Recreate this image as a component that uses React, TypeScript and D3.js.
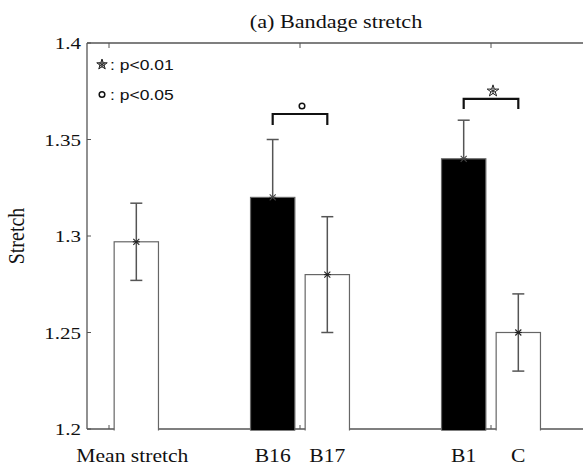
import React from "react";
import * as d3 from "d3";

const categories = ["Mean stretch", "B16", "B17", "B1", "C"];
const groupOf = [1, 2, 2, 3, 3];
const sideOf = [1, -1, 1, -1, 1];
const fills = ["white", "black", "white", "black", "white"];
const means = [1.297, 1.32, 1.28, 1.34, 1.25];
const errors = [0.02, 0.03, 0.03, 0.02, 0.02];
const yTicks = [1.2, 1.25, 1.3, 1.35, 1.4];
const yTickLabels = ["1.2", "1.25", "1.3", "1.35", "1.4"];
const groupTicks = [1, 2, 3];
const brackets = [
  { from: 1, to: 2, top: 1.3632, foot: 1.3575, symbol: "circle" },
  { from: 3, to: 4, top: 1.371, foot: 1.3658, symbol: "star" },
];
const legendLabels = [": p<0.01", ": p<0.05"];
const legendSymbols = ["star", "circle"];

const W = 583;
const H = 467;
const LEFT = 87;
const TOP = 43;
const BOTTOM = 429;
const RIGHT = 650;
const BAR_OFFSET = 0.143;
const BAR_WIDTH = 0.232;

const serif = "'Liberation Serif', 'Times New Roman', serif";
const sans = "'Liberation Sans', Arial, sans-serif";

export default function App() {
  const x = d3.scaleLinear().domain([1, 3]).range([109, 491]);
  const y = d3.scaleLinear().domain([1.2, 1.4]).range([BOTTOM, TOP]);
  const bw = x(1 + BAR_WIDTH) - x(1);
  const cx = (i: number) => x(groupOf[i] + sideOf[i] * BAR_OFFSET);
  const starPath = d3.symbol().type(d3.symbolStar).size(42)()!;
  const starSmall = d3.symbol().type(d3.symbolStar).size(34)()!;
  const asterisk = d3.symbol().type(d3.symbolAsterisk).size(30)()!;

  const sym = (kind: string, px: number, py: number, key: string, small = false) =>
    kind === "circle" ? (
      <circle key={key} cx={px} cy={py} r={2.8} fill="none" stroke="#111" strokeWidth={1.5} />
    ) : (
      <g key={key} transform={`translate(${px},${py})`}>
        <path d={small ? starSmall : starPath} fill={small ? "#bbb" : "#fff"} stroke="#222" strokeWidth={1} />
        <path d={asterisk} fill="none" stroke="#222" strokeWidth={0.9} />
      </g>
    );

  return (
    <svg width={W} height={H} style={{ position: "absolute", left: 0, top: 0, background: "white" }}>
      <defs>
        <clipPath id="plotclip">
          <rect x={LEFT} y={TOP} width={RIGHT - LEFT} height={BOTTOM - TOP + 1.5} />
        </clipPath>
      </defs>
      <rect x={0} y={0} width={W} height={H} fill="white" />
      {/* axes box */}
      <g stroke="#555" strokeWidth={1.3} fill="none">
        <line x1={LEFT} x2={RIGHT} y1={TOP} y2={TOP} />
        <line x1={LEFT} x2={RIGHT} y1={BOTTOM} y2={BOTTOM} />
        <line x1={LEFT} x2={LEFT} y1={TOP} y2={BOTTOM} />
      </g>
      {/* y ticks */}
      <g stroke="#555" strokeWidth={1}>
        {yTicks.map((t, i) => (
          <line key={i} x1={LEFT} x2={LEFT + 4} y1={y(t)} y2={y(t)} />
        ))}
      </g>
      {/* x ticks */}
      <g stroke="#555" strokeWidth={1}>
        {groupTicks.map((g) => (
          <g key={g}>
            <line x1={x(g)} x2={x(g)} y1={TOP} y2={TOP + 5} />
            <line x1={x(g)} x2={x(g)} y1={BOTTOM} y2={BOTTOM - 4} />
          </g>
        ))}
      </g>
      {/* bars */}
      <g clipPath="url(#plotclip)">
        {means.map((m, i) => (
          <rect
            key={i}
            x={cx(i) - bw / 2}
            y={y(m)}
            width={bw}
            height={BOTTOM + 20 - y(m)}
            fill={fills[i]}
            stroke="#666"
            strokeWidth={1.2}
          />
        ))}
      </g>
      {/* error bars */}
      <g stroke="#555" strokeWidth={1.5}>
        {means.map((m, i) => {
          const dark = fills[i] === "black";
          const lowY = dark ? y(m) : y(m - errors[i]);
          return (
            <g key={i}>
              <line x1={cx(i)} x2={cx(i)} y1={lowY} y2={y(m + errors[i])} />
              <line x1={cx(i) - 6} x2={cx(i) + 6} y1={y(m + errors[i])} y2={y(m + errors[i])} />
              {!dark && (
                <line x1={cx(i) - 6} x2={cx(i) + 6} y1={y(m - errors[i])} y2={y(m - errors[i])} />
              )}
              <g stroke={dark ? "#444" : "#222"} strokeWidth={1.1}>
                <line x1={cx(i) - 3} x2={cx(i) + 3} y1={y(m) - 3} y2={y(m) + 3} />
                <line x1={cx(i) - 3} x2={cx(i) + 3} y1={y(m) + 3} y2={y(m) - 3} />
                <line x1={cx(i) - 3.5} x2={cx(i) + 3.5} y1={y(m)} y2={y(m)} />
              </g>
            </g>
          );
        })}
      </g>
      {/* significance brackets */}
      {brackets.map((b, i) => {
        const x1 = cx(b.from);
        const x2 = cx(b.to);
        return (
          <g key={i}>
            <path
              d={`M${x1},${y(b.foot)}V${y(b.top)}H${x2}V${y(b.foot)}`}
              fill="none"
              stroke="#111"
              strokeWidth={2.2}
            />
            {sym(b.symbol, (x1 + x2) / 2 + 2, y(b.top) - 8, "s" + i)}
          </g>
        );
      })}
      {/* legend */}
      {legendLabels.map((l, i) => (
        <g key={i}>
          {sym(legendSymbols[i], 102, 64.5 + i * 30, "l" + i, true)}
          <text
            transform={`translate(110,${70 + i * 30}) scale(1.25,1)`}
            fontFamily={sans}
            fontSize={14}
            fill="#111"
          >
            {l}
          </text>
        </g>
      ))}
      {/* y tick labels */}
      {yTicks.map((t, i) => (
        <text
          key={i}
          transform={`translate(81,${y(t) + 6}) scale(1.2,1)`}
          textAnchor="end"
          fontFamily={serif}
          fontSize={17.5}
          fill="#111"
        >
          {yTickLabels[i]}
        </text>
      ))}
      {/* x category labels */}
      {categories.map((c, i) => (
        <text
          key={i}
          transform={`translate(${cx(i) - (i === 0 ? 4 : 0)},462) scale(1.2,1)`}
          textAnchor="middle"
          fontFamily={serif}
          fontSize={18}
          fill="#111"
        >
          {c}
        </text>
      ))}
      {/* title */}
      <text
        transform={`translate(336,28) scale(1.2,1)`}
        textAnchor="middle"
        fontFamily={serif}
        fontSize={18.5}
        fill="#111"
      >
        (a) Bandage stretch
      </text>
      {/* y label */}
      <text
        transform={`translate(24,${(TOP + BOTTOM) / 2}) rotate(-90) scale(1,1.15)`}
        textAnchor="middle"
        fontFamily={serif}
        fontSize={20}
        fill="#111"
      >
        Stretch
      </text>
    </svg>
  );
}
